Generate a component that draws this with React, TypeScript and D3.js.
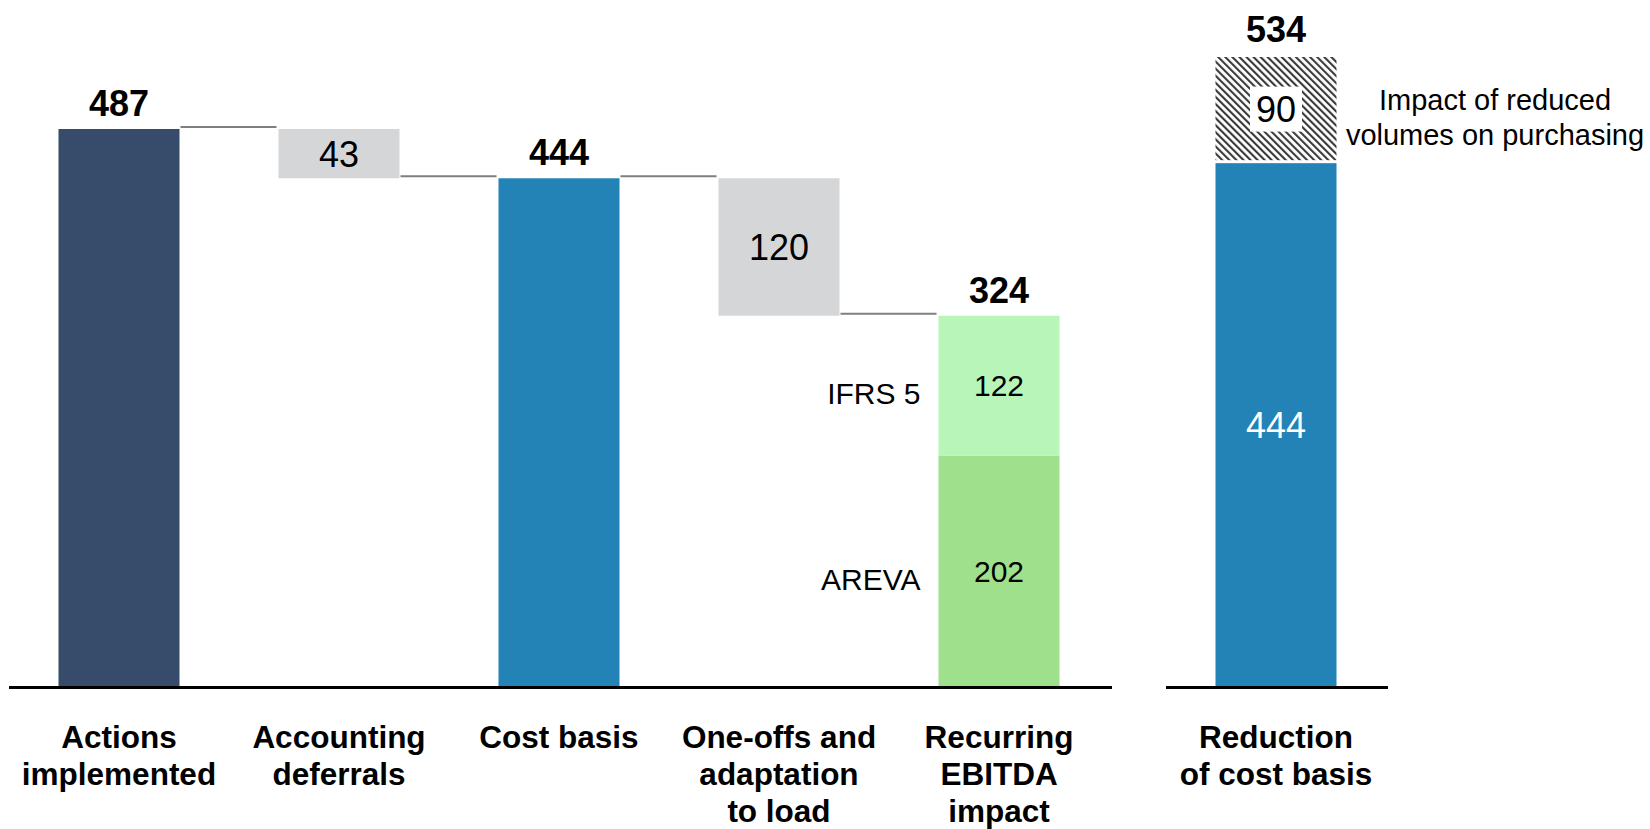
import React from 'react';
import * as d3 from 'd3';

// Waterfall steps (left panel)
const categories = ['Actions implemented', 'Accounting deferrals', 'Cost basis', 'One-offs and adaptation to load', 'Recurring EBITDA impact'];
const categoryLines = [['Actions', 'implemented'], ['Accounting', 'deferrals'], ['Cost basis'], ['One-offs and', 'adaptation', 'to load'], ['Recurring', 'EBITDA', 'impact']];
const stepKinds = ['total', 'delta', 'total', 'delta', 'total'];
const stepValues = [487, -43, 444, -120, 324];

// Breakdown of the recurring EBITDA impact (bottom to top)
const recurringNames = ['AREVA', 'IFRS 5'];
const recurringValues = [202, 122];

// Right panel: reduction of cost basis (bottom to top)
const reductionCategory = ['Reduction', 'of cost basis'];
const reductionValues = [444, 90];
const reductionNote = ['Impact of reduced', 'volumes on purchasing'];

const COLORS = {
  navy: '#374C6A',
  blue: '#2383B6',
  grey: '#D5D6D8',
  greenDark: '#9EE08C',
  greenLight: '#B7F5B9',
  connector: '#7F7F7F',
};

const FONT = '"Liberation Sans", Arial, Helvetica, sans-serif';

export default function App() {
  const W = 1650;
  const H = 829;
  const baseY = 687;

  const x = d3.scaleBand<string>().domain(categories).range([9, 1109]).paddingInner(0.45).paddingOuter(0.225);
  const y = d3.scaleLinear().domain([0, 487]).range([baseY, 129]);

  const xr = d3.scaleBand<string>().domain(['reduction']).range([1166, 1386]).paddingInner(0.45).paddingOuter(0.225);
  const yr = d3.scaleLinear().domain([0, d3.sum(reductionValues)]).range([baseY, 57]);

  const bw = x.bandwidth();

  // running levels for the waterfall
  let level = 0;
  const steps = categories.map((c, i) => {
    const v = stepValues[i];
    let lo: number, hi: number;
    if (stepKinds[i] === 'total') {
      lo = 0; hi = v; level = v;
    } else {
      const next = level + v;
      lo = Math.min(level, next); hi = Math.max(level, next); level = next;
    }
    return { c, i, v, lo, hi, end: level, x0: x(c) as number };
  });

  const totalColors = [COLORS.navy, null, COLORS.blue, null, null];

  // stacked segments for recurring impact
  const recStack = recurringValues.map((v, i) => {
    const lo = d3.sum(recurringValues.slice(0, i));
    return { name: recurringNames[i], v, lo, hi: lo + v, color: i === 0 ? COLORS.greenDark : COLORS.greenLight };
  });

  const rx0 = xr('reduction') as number;
  const rbw = xr.bandwidth();
  const redTotal = d3.sum(reductionValues);

  const catSize = 31.5;
  const catLead = 37;

  return (
    <svg width={W} height={H} style={{ position: 'absolute', left: 0, top: 0, background: '#fff' }} fontFamily={FONT}>
      <defs>
        <pattern id="hatch" patternUnits="userSpaceOnUse" width={5} height={5} patternTransform="rotate(-45)">
          <rect width={5} height={5} fill="#fff" />
          <rect width={2.1} height={5} fill="#3a3a3a" />
        </pattern>
      </defs>

      {/* connectors between consecutive bars */}
      {steps.slice(0, -1).map((s, i) => {
        const n = steps[i + 1];
        return (
          <line key={`c${i}`} x1={s.x0 + bw + 1} x2={n.x0 - 2} y1={y(s.end) - 2} y2={y(s.end) - 2}
            stroke={COLORS.connector} strokeWidth={2} />
        );
      })}

      {/* waterfall bars */}
      {steps.map((s) => {
        if (s.i === 4) {
          return (
            <g key={s.c}>
              {recStack.map((seg) => (
                <rect key={seg.name} x={s.x0} width={bw} y={y(seg.hi)} height={y(seg.lo) - y(seg.hi)} fill={seg.color} />
              ))}
            </g>
          );
        }
        const fill = stepKinds[s.i] === 'total' ? (totalColors[s.i] as string) : COLORS.grey;
        return <rect key={s.c} x={s.x0} width={bw} y={y(s.hi)} height={y(s.lo) - y(s.hi)} fill={fill} />;
      })}

      {/* value labels */}
      {steps.map((s) => {
        const cx = s.x0 + bw / 2;
        if (stepKinds[s.i] === 'total') {
          return (
            <text key={`v${s.c}`} x={cx} y={y(s.hi) - 13} textAnchor="middle" fontWeight="bold" fontSize={36} fill="#000">
              {s.v}
            </text>
          );
        }
        return (
          <text key={`v${s.c}`} x={cx} y={(y(s.hi) + y(s.lo)) / 2} dy="0.36em" textAnchor="middle" fontSize={36} fill="#000">
            {Math.abs(s.v)}
          </text>
        );
      })}

      {/* recurring breakdown labels */}
      {recStack.map((seg) => {
        const s = steps[4];
        const cy = (y(seg.hi) + y(seg.lo)) / 2;
        return (
          <g key={`l${seg.name}`}>
            <text x={s.x0 + bw / 2} y={cy} dy="0.36em" textAnchor="middle" fontSize={30} fill="#000">{seg.v}</text>
            <text x={s.x0 - 18} y={cy + 8} dy="0.36em" textAnchor="end" fontSize={30} fill="#000">{seg.name}</text>
          </g>
        );
      })}

      {/* right panel */}
      <rect x={rx0} width={rbw} y={yr(reductionValues[0])} height={yr(0) - yr(reductionValues[0])} fill={COLORS.blue} />
      <rect x={rx0} width={rbw} y={yr(redTotal)} height={yr(reductionValues[0]) - yr(redTotal) - 3} fill="url(#hatch)" />
      <text x={rx0 + rbw / 2} y={(yr(reductionValues[0]) + yr(0)) / 2} dy="0.36em" textAnchor="middle" fontSize={36} fill="#fff">
        {reductionValues[0]}
      </text>
      {(() => {
        const cy = (yr(redTotal) + yr(reductionValues[0]) - 3) / 2;
        return (
          <g>
            <rect x={rx0 + rbw / 2 - 26} y={cy - 22} width={52} height={45} fill="#fff" />
            <text x={rx0 + rbw / 2} y={cy} dy="0.36em" textAnchor="middle" fontSize={36} fill="#000">{reductionValues[1]}</text>
          </g>
        );
      })()}
      <text x={rx0 + rbw / 2} y={yr(redTotal) - 15} textAnchor="middle" fontWeight="bold" fontSize={36} fill="#000">
        {redTotal}
      </text>
      <text textAnchor="middle" fontSize={29} fill="#000">
        {reductionNote.map((t, i) => (
          <tspan key={t} x={1495} y={110 + i * 35}>{t}</tspan>
        ))}
      </text>

      {/* baselines */}
      <line x1={9} x2={1112} y1={baseY + 0.5} y2={baseY + 0.5} stroke="#000" strokeWidth={3} />
      <line x1={1166} x2={1388} y1={baseY + 0.5} y2={baseY + 0.5} stroke="#000" strokeWidth={3} />

      {/* category labels */}
      {categories.map((c, i) => (
        <text key={`t${c}`} textAnchor="middle" fontWeight="bold" fontSize={catSize} fill="#000">
          {categoryLines[i].map((ln, j) => (
            <tspan key={ln} x={(x(c) as number) + bw / 2} y={748 + j * catLead}>{ln}</tspan>
          ))}
        </text>
      ))}
      <text textAnchor="middle" fontWeight="bold" fontSize={catSize} fill="#000">
        {reductionCategory.map((ln, j) => (
          <tspan key={ln} x={rx0 + rbw / 2} y={748 + j * catLead}>{ln}</tspan>
        ))}
      </text>
    </svg>
  );
}
